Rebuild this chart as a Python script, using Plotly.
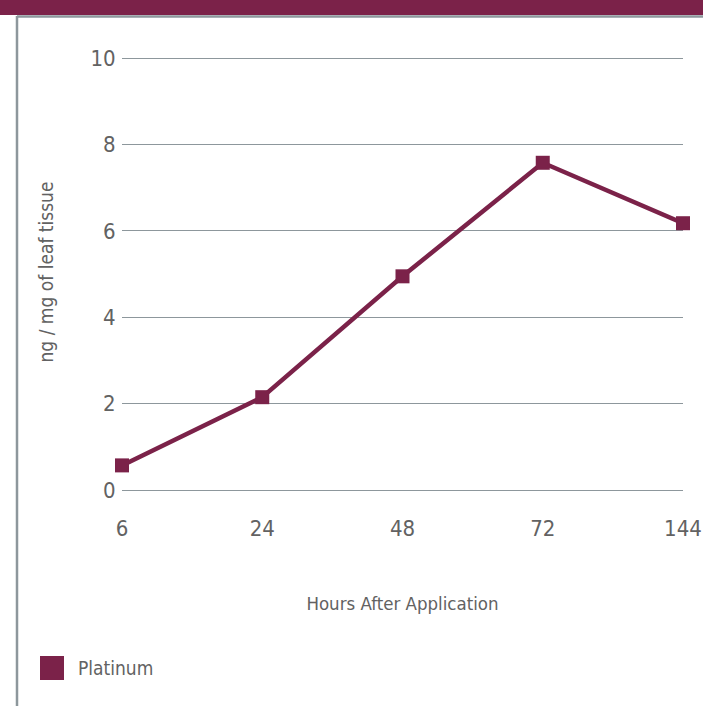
import plotly.graph_objects as go

# Platinum content in leaf tissue over time
hours = ["6", "24", "48", "72", "144"]
platinum = [0.57, 2.15, 4.95, 7.58, 6.18]
series_name = "Platinum"
y_ticks = [0, 2, 4, 6, 8, 10]

MAROON = "#7b2249"
GRID = "#8d979c"
TEXT = "#626262"
FONT = "Liberation Sans Narrow, DejaVu Sans Condensed, Roboto, sans-serif"

W, H = 703, 706
L, R, T, B = 122, 20, 54, 216
pw, ph = W - L - R, H - T - B


def paper_x(px):
    return (px - L) / pw


def paper_y(py):
    return (H - B - py) / ph


fig = go.Figure()
fig.add_trace(go.Scatter(
    x=hours, y=platinum, mode="lines+markers", name=series_name,
    line=dict(color=MAROON, width=4.5),
    marker=dict(symbol="square", size=14, color=MAROON),
    cliponaxis=False, showlegend=False,
))

fig.update_layout(
    width=W, height=H,
    margin=dict(l=L, r=R, t=T, b=B, pad=0),
    paper_bgcolor="white", plot_bgcolor="white",
    font=dict(family=FONT, size=22, color=TEXT),
    xaxis=dict(
        type="category", range=[0, 4], showgrid=False, zeroline=False,
        showline=False, ticks="outside", ticklen=19, tickcolor="rgba(0,0,0,0)",
        automargin=False,
        tickfont=dict(size=22, color=TEXT),
        title=dict(text="Hours After Application", standoff=56,
                   font=dict(size=18.5, color=TEXT)),
    ),
    yaxis=dict(
        range=[0, 10.1], tickvals=y_ticks, showgrid=True, gridcolor=GRID,
        gridwidth=1.3, zeroline=True, zerolinecolor=GRID, zerolinewidth=1.3,
        showline=False, ticks="outside", ticklen=1, tickcolor="rgba(0,0,0,0)",
        automargin=False,
        tickfont=dict(size=22, color=TEXT),
        title=dict(text="ng / mg of leaf tissue", standoff=31,
                   font=dict(size=19, color=TEXT)),
    ),
    showlegend=False,
)

# Frame: maroon header band with grey rule, grey left border, legend swatch
shapes = [
    dict(type="rect", xref="paper", yref="paper",
         x0=paper_x(0), x1=paper_x(W), y0=paper_y(15), y1=paper_y(0),
         fillcolor=MAROON, line=dict(width=0), layer="above"),
    dict(type="line", xref="paper", yref="paper",
         x0=paper_x(17), x1=paper_x(W), y0=paper_y(16.5), y1=paper_y(16.5),
         line=dict(color=GRID, width=2.5)),
    dict(type="line", xref="paper", yref="paper",
         x0=paper_x(17), x1=paper_x(17), y0=paper_y(16), y1=paper_y(H),
         line=dict(color=GRID, width=2.5)),
    dict(type="rect", xref="paper", yref="paper",
         x0=paper_x(40), x1=paper_x(64), y0=paper_y(680), y1=paper_y(656),
         fillcolor=MAROON, line=dict(width=0)),
]
fig.update_layout(shapes=shapes)

fig.add_annotation(
    xref="paper", yref="paper", x=paper_x(76), y=paper_y(668),
    text=series_name, showarrow=False, xanchor="left", yanchor="middle",
    font=dict(family=FONT, size=19, color=TEXT),
)

fig.write_html("out.html")
